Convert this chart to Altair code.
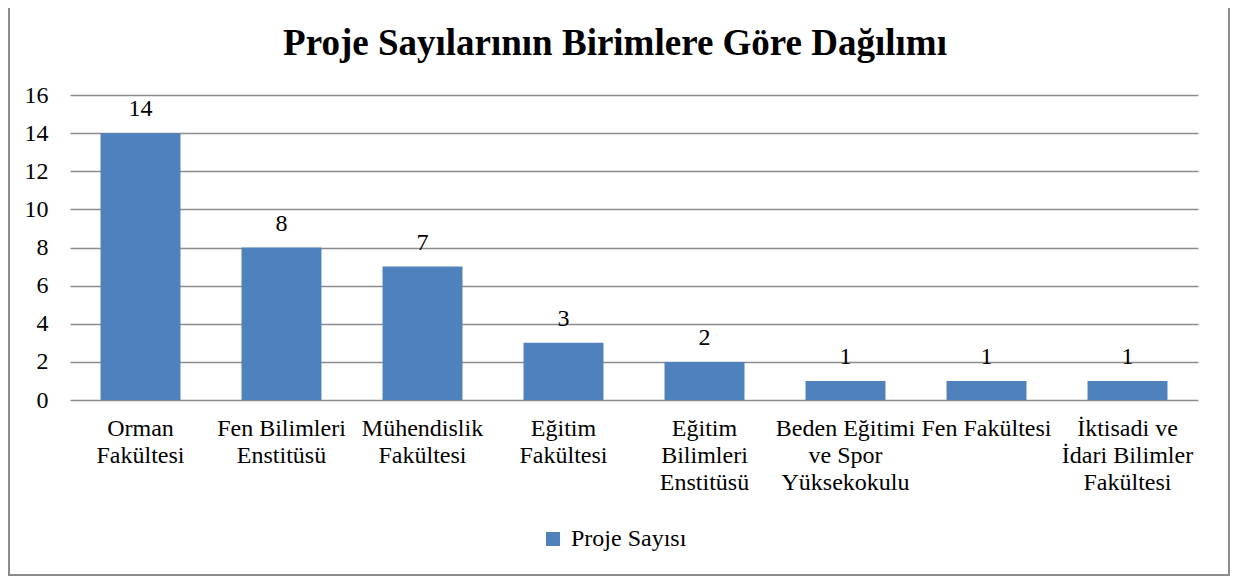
import json
import altair as alt
import pandas as pd

categories = [
    "Orman Fakültesi",
    "Fen Bilimleri Enstitüsü",
    "Mühendislik Fakültesi",
    "Eğitim Fakültesi",
    "Eğitim Bilimleri Enstitüsü",
    "Beden Eğitimi ve Spor Yüksekokulu",
    "Fen Fakültesi",
    "İktisadi ve İdari Bilimler Fakültesi",
]
label_lines = [
    ["Orman", "Fakültesi"],
    ["Fen Bilimleri", "Enstitüsü"],
    ["Mühendislik", "Fakültesi"],
    ["Eğitim", "Fakültesi"],
    ["Eğitim", "Bilimleri", "Enstitüsü"],
    ["Beden Eğitimi", "ve Spor", "Yüksekokulu"],
    ["Fen Fakültesi"],
    ["İktisadi ve", "İdari Bilimler", "Fakültesi"],
]
values = [14, 8, 7, 3, 2, 1, 1, 1]
series_name = "Proje Sayısı"
title_text = "Proje Sayılarının Birimlere Göre Dağılımı"
y_ticks = [0, 2, 4, 6, 8, 10, 12, 14, 16]

df = pd.DataFrame({"Birim": categories, "Proje": values, "Seri": [series_name] * len(values)})
one = pd.DataFrame({"t": [title_text]})

FONT = "Liberation Serif"
BLUE = "#4F81BD"
GRID = "#8C8C8C"

label_expr = f"{json.dumps(label_lines, ensure_ascii=False)}[indexof({json.dumps(categories, ensure_ascii=False)}, datum.value)]"

x_enc = alt.X(
    "Birim:N",
    sort=categories,
    title=None,
    scale=alt.Scale(paddingInner=0.433, paddingOuter=0.2165),
    axis=alt.Axis(
        labelExpr=label_expr,
        labelAngle=0,
        labelFont=FONT,
        labelFontSize=24,
        labelColor="#000000",
        labelLineHeight=27,
        labelPadding=16,
        labelBaseline="top",
        labelOverlap=False,
        ticks=False,
        domain=False,
        grid=False,
    ),
)
y_enc = alt.Y(
    "Proje:Q",
    title=None,
    scale=alt.Scale(domain=[0, 16], nice=False),
    axis=alt.Axis(
        values=y_ticks,
        labelFont=FONT,
        labelFontSize=24,
        labelColor="#000000",
        labelPadding=22,
        labelOverlap=False,
        ticks=False,
        domain=False,
        gridColor=GRID,
        gridWidth=1.5,
        gridOpacity=1,
    ),
)

bars = alt.Chart(df).mark_bar(color=BLUE).encode(
    x=x_enc,
    y=y_enc,
    color=alt.Color(
        "Seri:N",
        scale=alt.Scale(range=[BLUE]),
        legend=alt.Legend(
            title=None,
            orient="none",
            legendX=471,
            legendY=432,
            symbolType="square",
            symbolSize=196,
            symbolStrokeWidth=0,
            labelFont=FONT,
            labelFontSize=24,
            labelColor="#000000",
            labelOffset=6,
            padding=0,
        ),
    ),
)

labels = alt.Chart(df).mark_text(
    font=FONT, fontSize=24, color="#000000", baseline="alphabetic", dy=-17
).encode(
    x=x_enc,
    y=y_enc,
    text="Proje:Q",
)

title = alt.Chart(one).mark_text(
    font=FONT, fontSize=37, fontWeight="bold", color="#000000",
    align="center", baseline="alphabetic", clip=False,
).encode(
    x=alt.value(545),
    y=alt.value(-40),
    text="t:N",
)

border = alt.Chart(one).mark_rect(
    fill=None, stroke="#8C8C8C", strokeWidth=2, clip=False
).encode(
    x=alt.value(-61),
    x2=alt.value(1159),
    y=alt.value(-92),
    y2=alt.value(480),
)

chart = (
    alt.layer(bars, labels, title, border)
    .properties(
        width=1128,
        height=305,
        padding={"left": 62, "top": 87, "right": 32, "bottom": 176},
        autosize=alt.AutoSizeParams(type="none"),
    )
    .configure(font=FONT)
    .configure_axis(labelFont=FONT)
    .configure_legend(labelFont=FONT)
    .configure_text(font=FONT)
    .configure_view(stroke=None)
)

chart.save("out.html", embed_options={"renderer": "svg", "actions": False})
